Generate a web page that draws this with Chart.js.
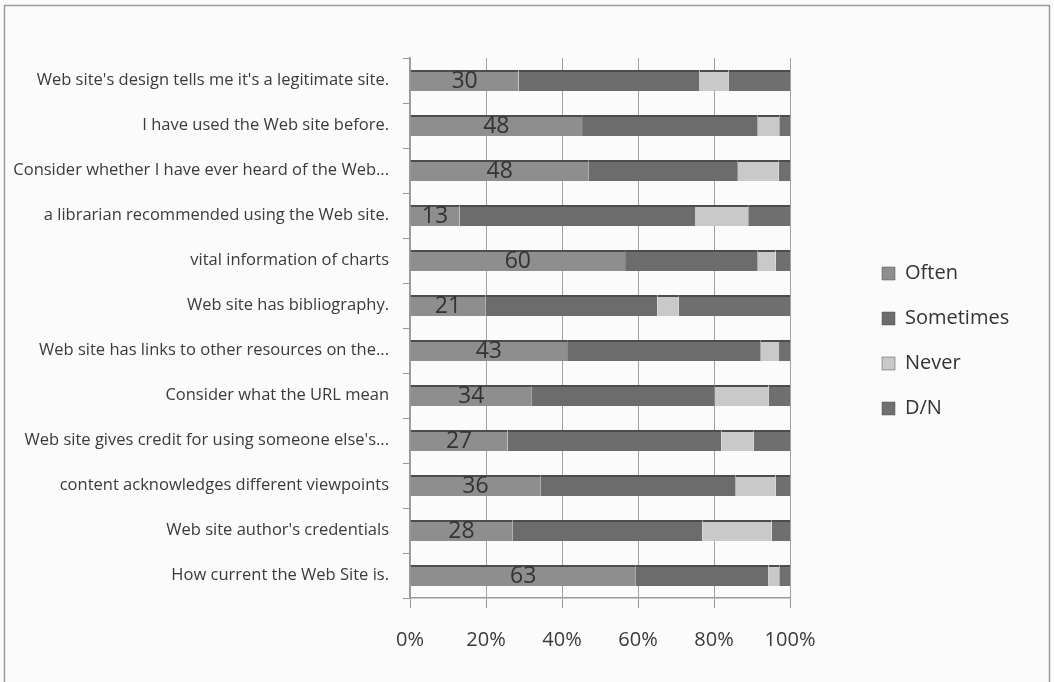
<!DOCTYPE html>
<html>
<head>
<meta charset="utf-8">
<script src="https://cdn.jsdelivr.net/npm/chart.js@4.4.1/dist/chart.umd.min.js"></script>
<style>
  html, body { margin: 0; padding: 0; background: #fbfbfb; }
  #wrap { width: 1054px; height: 682px; position: relative; }
</style>
</head>
<body>
<div id="wrap"><canvas id="c" width="1054" height="682"></canvas></div>
<script>
const categories = [
  "Web site's design tells me it's a legitimate site.",
  "I have used the Web site before.",
  "Consider whether I have ever heard of the Web...",
  "a librarian recommended using the Web site.",
  "vital information of charts",
  "Web site has bibliography.",
  "Web site has links to other resources on the...",
  "Consider what the URL mean",
  "Web site gives credit for using someone else's...",
  "content acknowledges different viewpoints",
  "Web site author's credentials",
  "How current the Web Site is."
];
const often     = [30, 48, 48, 13, 60, 21, 43, 34, 27, 36, 28, 63];
const sometimes = [50, 49, 40, 62, 37, 48, 53, 51, 59, 54, 52, 37];
const never     = [ 8,  6, 11, 14,  5,  6,  5, 15,  9, 11, 19,  3];
const dn        = [17,  3,  3, 11,  4, 31,  3,  6, 10,  4,  5,  3];
const tickLabels = ["0%", "20%", "40%", "60%", "80%", "100%"];

const totals = categories.map((_, i) => often[i] + sometimes[i] + never[i] + dn[i]);
const pct = arr => arr.map((v, i) => v / totals[i] * 100);

const FONT = "'Open Sans', 'DejaVu Sans', sans-serif";

const mkSet = (label, arr, color) => ({
  label, data: pct(arr), backgroundColor: color,
  borderColor: '#4c4c4c', borderWidth: {top: 2, left: 0, right: 0, bottom: 0},
  borderSkipped: false, barPercentage: 0.47, categoryPercentage: 1.0
});

const frame = {
  id: 'frame',
  beforeDraw(chart) {
    const ctx = chart.ctx;
    ctx.save();
    ctx.fillStyle = '#fbfbfb';
    ctx.fillRect(0, 0, chart.width, chart.height);
    ctx.strokeStyle = '#9a9a9a';
    ctx.lineWidth = 1.5;
    ctx.beginPath();
    ctx.moveTo(4.5, 690); ctx.lineTo(4.5, 5.5); ctx.lineTo(1049.5, 5.5); ctx.lineTo(1049.5, 690);
    ctx.stroke();
    ctx.restore();
  },
  afterLayout(chart) {
    const lg = chart.legend;
    if (lg) {
      const w = lg.width;
      lg.left = 857; lg.right = 857 + w;
      lg.top -= 24; lg.bottom -= 24;
    }
  },
  afterDatasetsDraw(chart) {
    const ctx = chart.ctx;
    const meta = chart.getDatasetMeta(0);
    ctx.save();
    ctx.font = "23px " + FONT;
    ctx.fillStyle = '#333';
    ctx.textAlign = 'center';
    ctx.textBaseline = 'middle';
    meta.data.forEach((bar, i) => {
      const cx = (bar.x + bar.base) / 2;
      ctx.fillText(String(often[i]), cx, bar.y + 1);
    });
    ctx.restore();
  }
};

const legendWidth = {
  id: 'legendWidth',
  beforeUpdate(chart) {
    const lg = chart.legend;
    if (lg && !lg._patched) {
      const orig = lg.fit.bind(lg);
      lg.fit = function () { orig(); this.width = 1054 - 790; };
      lg._patched = true;
    }
  }
};

new Chart(document.getElementById('c'), {
  type: 'bar',
  data: {
    labels: categories,
    datasets: [
      mkSet('Often', often, '#8e8e8e'),
      mkSet('Sometimes', sometimes, '#6c6c6c'),
      mkSet('Never', never, '#c9c9c9'),
      mkSet('D/N', dn, '#6f6f6f')
    ]
  },
  options: {
    indexAxis: 'y',
    responsive: false,
    animation: false,
    layout: { padding: { top: 58, bottom: 10, left: 0, right: 0 } },
    scales: {
      x: {
        stacked: true, min: 0, max: 100,
        ticks: {
          stepSize: 20, padding: 20, color: '#3a3a3a',
          font: { family: FONT, size: 20 },
          callback: (v) => tickLabels[Math.round(v / 20)]
        },
        grid: { color: '#a0a0a0', lineWidth: 1, tickLength: 10, tickColor: '#999' },
        border: { color: '#999', width: 1.5 }
      },
      y: {
        stacked: true,
        afterFit(scale) { scale.width = 410; },
        ticks: { color: '#3a3a3a', padding: 14, font: { family: FONT, size: 16.5 } },
        grid: { drawOnChartArea: false, tickLength: 7, color: '#999' },
        border: { color: '#999', width: 1.5 }
      }
    },
    plugins: {
      legend: {
        position: 'right',
        labels: {
          boxWidth: 13, boxHeight: 13, padding: 25, color: '#333',
          font: { family: FONT, size: 20 }
        }
      },
      tooltip: { enabled: false }
    }
  },
  plugins: [legendWidth, frame]
});
</script>
</body>
</html>
